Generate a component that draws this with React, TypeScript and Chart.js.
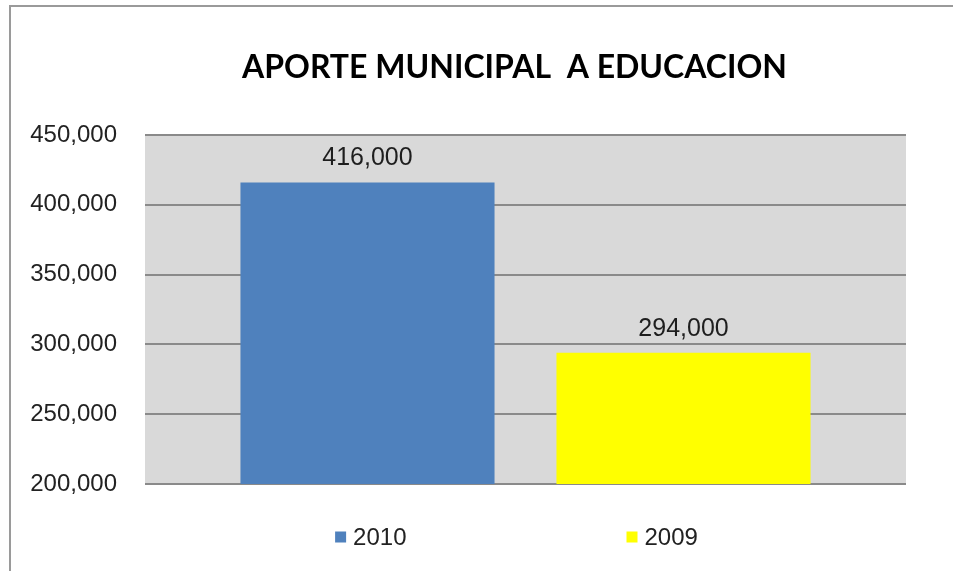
import React, { useEffect, useRef } from "react";
import { Chart, registerables } from "chart.js";

Chart.register(...registerables);

const TITLE = "APORTE MUNICIPAL  A EDUCACION";
const CATEGORIES = [""];
const SERIES_LABELS = ["2010", "2009"];
const SERIES_VALUES = [[416000], [294000]];
const SERIES_COLORS = ["#4f81bd", "#ffff00"];
const Y_MIN = 200000;
const Y_MAX = 450000;
const Y_STEP = 50000;

const fmt = (v: number) => v.toLocaleString("en-US");

const plotBg = {
  id: "plotBg",
  beforeDraw(chart: any) {
    const { ctx, chartArea } = chart;
    ctx.save();
    ctx.fillStyle = "#d9d9d9";
    ctx.fillRect(chartArea.left, chartArea.top, chartArea.right - chartArea.left, chartArea.bottom - chartArea.top);
    ctx.restore();
  },
};

const dataLabels = {
  id: "dataLabels",
  afterDatasetsDraw(chart: any) {
    const { ctx } = chart;
    ctx.save();
    ctx.font = "25px 'Liberation Sans', Arial, sans-serif";
    ctx.fillStyle = "#1e1e1e";
    ctx.textAlign = "center";
    ctx.textBaseline = "alphabetic";
    chart.data.datasets.forEach((ds: any, i: number) => {
      const meta = chart.getDatasetMeta(i);
      meta.data.forEach((el: any, j: number) => {
        ctx.fillText(fmt(ds.data[j]), el.x, el.y - 17);
      });
    });
    ctx.restore();
  },
};

const titleAndLegend = {
  id: "titleAndLegend",
  afterDraw(chart: any) {
    const { ctx, chartArea } = chart;
    ctx.save();
    // title
    ctx.font = "bold 32px Lato, 'Open Sans', sans-serif";
    ctx.fillStyle = "#000000";
    ctx.textAlign = "center";
    ctx.textBaseline = "alphabetic";
    ctx.fillText(TITLE, (chartArea.left + chartArea.right) / 2 - 11, 78);

    // legend
    ctx.font = "24px 'Liberation Sans', Arial, sans-serif";
    ctx.textBaseline = "middle";
    ctx.textAlign = "left";
    const box = 11;
    const spacing = 7;
    const gap = 220;
    const widths = chart.data.datasets.map((ds: any) => box + spacing + ctx.measureText(ds.label).width);
    const total = widths.reduce((a: number, b: number) => a + b, 0) + gap * (widths.length - 1);
    let x = (chartArea.left + chartArea.right) / 2 - 9 - total / 2;
    const y = 537;
    chart.data.datasets.forEach((ds: any, i: number) => {
      ctx.fillStyle = ds.backgroundColor;
      ctx.fillRect(x, y - box / 2, box, box);
      ctx.fillStyle = "#222222";
      ctx.fillText(ds.label, x + box + spacing, y + 1);
      x += widths[i] + gap;
    });
    // outer chart border
    ctx.strokeStyle = "#9a9a9a";
    ctx.lineWidth = 2;
    ctx.strokeRect(10, 6, chart.width + 20, chart.height + 20);
    ctx.restore();
  },
};

export default function App() {
  const ref = useRef<HTMLCanvasElement | null>(null);
  useEffect(() => {
    if (!ref.current) return;
    const chart = new Chart(ref.current, {
      type: "bar",
      data: {
        labels: CATEGORIES,
        datasets: SERIES_LABELS.map((label, i) => ({
          label,
          data: SERIES_VALUES[i],
          backgroundColor: SERIES_COLORS[i],
          borderWidth: 0,
          categoryPercentage: 0.8305,
          barPercentage: 0.804,
        })),
      },
      options: {
        animation: false,
        responsive: false,
        layout: { padding: { left: 0, right: 47, top: 135, bottom: 87 } },
        plugins: {
          legend: { display: false },
          tooltip: { enabled: false },
          title: { display: false },
        },
        scales: {
          x: { display: false },
          y: {
            min: Y_MIN,
            max: Y_MAX,
            border: { display: false },
            grid: { color: "#8a8a8a", lineWidth: 2, drawTicks: false },
            ticks: {
              stepSize: Y_STEP,
              padding: 28,
              color: "#222222",
              font: { family: "'Liberation Sans', Arial, sans-serif", size: 24 },
              callback: (v: any) => fmt(Number(v)),
            },
            afterFit: (scale: any) => {
              scale.width = 145;
            },
          },
        },
      },
      plugins: [plotBg, dataLabels, titleAndLegend],
    });
    return () => chart.destroy();
  }, []);
  return (
    <div style={{ position: "fixed", left: 0, top: 0, width: 953, height: 571, background: "#ffffff" }}>
      <canvas ref={ref} width={953} height={571} />
    </div>
  );
}
